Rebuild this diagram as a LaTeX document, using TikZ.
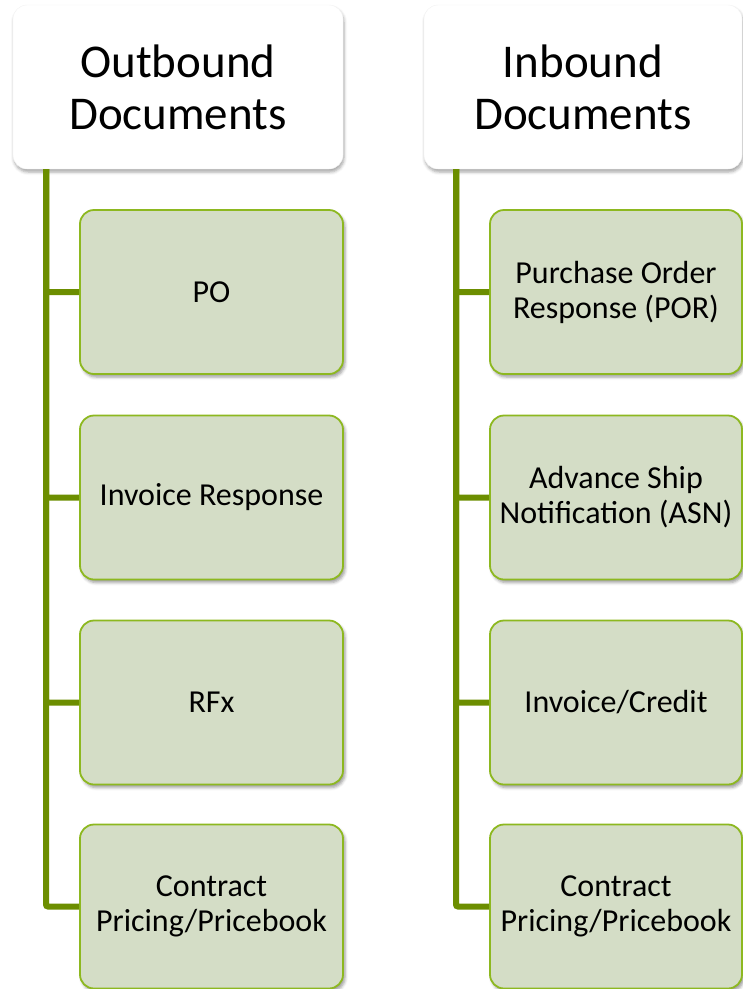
\documentclass[tikz,border=0pt]{standalone}
\usepackage{fontspec}
\setmainfont{Carlito}
\usepackage{xcolor}
\usetikzlibrary{shadows.blur}

\definecolor{leaffill}{RGB}{212,221,198}
\definecolor{leafedge}{RGB}{141,184,32}
\definecolor{branchgreen}{RGB}{108,142,0}

\begin{document}
\begin{tikzpicture}[
    x=1pt, y=-1pt,
    head/.style={rectangle, rounded corners=14pt, fill=white, draw=black!5, minimum height=164pt, align=center, inner sep=0pt, font=\fontsize{47}{52}\selectfont, blur shadow={shadow xshift=1pt, shadow yshift=-3pt, shadow blur radius=3pt, shadow opacity=35}},
    leaf/.style={rectangle, rounded corners=14pt, fill=leaffill, draw=leafedge, line width=1.8pt, minimum height=164pt, align=center, inner sep=0pt, font=\fontsize{32}{35}\selectfont, blur shadow={shadow xshift=2pt, shadow yshift=-3pt, shadow blur radius=3pt, shadow opacity=40}},
    branch/.style={draw=branchgreen, line width=6pt, rounded corners=2pt}
]
\useasboundingbox (0,0) rectangle (743,989);

% Outbound column
\node[head, minimum width=330pt] (outhead) at (178,87) {Outbound\\Documents};
\node[leaf, minimum width=263pt] (outpo) at (211.5,292) {PO};
\node[leaf, minimum width=263pt] (outinv) at (211.5,497.5) {Invoice Response};
\node[leaf, minimum width=263pt] (outrfx) at (211.5,702.5) {RFx};
\node[leaf, minimum width=263pt] (outprice) at (211.5,906.5) {Contract\\Pricing/Pricebook};

% Inbound column
\node[head, minimum width=318pt] (inhead) at (583,87) {Inbound\\Documents};
\node[leaf, minimum width=252pt] (inpor) at (616,292) {Purchase Order\\Response (POR)};
\node[leaf, minimum width=252pt] (inasn) at (616,497.5) {Advance Ship\\Notification (ASN)};
\node[leaf, minimum width=252pt] (incredit) at (616,702.5) {Invoice/Credit};
\node[leaf, minimum width=252pt] (inprice) at (616,906.5) {Contract\\Pricing/Pricebook};

% Branches
\coordinate (outroot) at (46,169);
\coordinate (inroot) at (456,169);
\draw[branch] (outroot) |- (outpo.west);
\draw[branch] (outroot) |- (outinv.west);
\draw[branch] (outroot) |- (outrfx.west);
\draw[branch] (outroot) |- (outprice.west);
\draw[branch] (inroot) |- (inpor.west);
\draw[branch] (inroot) |- (inasn.west);
\draw[branch] (inroot) |- (incredit.west);
\draw[branch] (inroot) |- (inprice.west);

\end{tikzpicture}
\end{document}
